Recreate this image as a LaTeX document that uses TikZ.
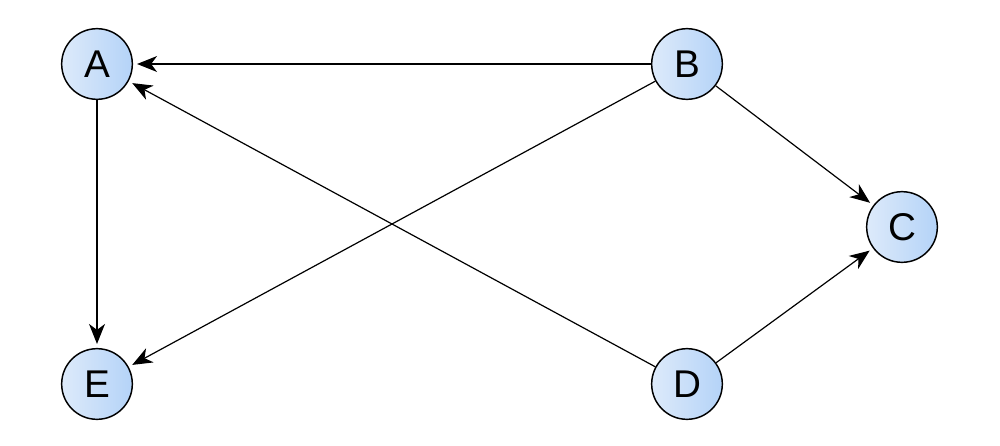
\documentclass[tikz,border=0pt]{standalone}
\usepackage{fontspec}
\setmainfont{Liberation Sans}
\usetikzlibrary{arrows.meta}
\definecolor{nodeL}{HTML}{DDEAFA}
\definecolor{nodeR}{HTML}{B4D3F8}
\begin{document}
\begin{tikzpicture}[x=0.75pt,y=-0.75pt,
  vert/.style={circle,draw=black,line width=1.1pt,minimum size=53pt,inner sep=0pt,
    left color=nodeL,right color=nodeR,font=\fontsize{29}{29}\selectfont},
  edge/.style={-{Stealth[length=15pt,width=12pt,inset=4.5pt]},line width=0.9pt,shorten >=3pt}]
\useasboundingbox (0,0) rectangle (1000,446);
\node[vert] (A) at (97,64) {A};
\node[vert] (B) at (687,64) {B};
\node[vert] (C) at (902,227) {C};
\node[vert] (E) at (97,384) {E};
\node[vert] (D) at (687,384) {D};
\draw[edge] (B) -- (A);
\draw[edge] (B) -- (E);
\draw[edge] (B) -- (C);
\draw[edge] (A) -- (E);
\draw[edge] (D) -- (A);
\draw[edge] (D) -- (C);
\end{tikzpicture}
\end{document}
